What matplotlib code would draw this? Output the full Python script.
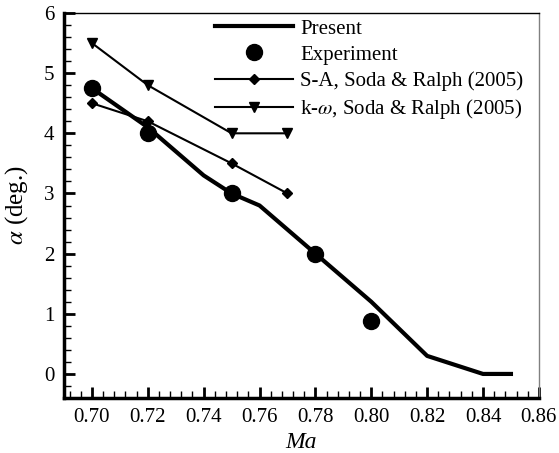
import matplotlib
matplotlib.use('Agg')
import matplotlib.pyplot as plt
from matplotlib.ticker import MultipleLocator

plt.rcParams['font.family'] = 'Liberation Serif'
plt.rcParams['mathtext.fontset'] = 'stix'

# present computation
ma_present = [0.70, 0.72, 0.74, 0.75, 0.76, 0.78, 0.80, 0.82, 0.84, 0.85]
alpha_present = [4.75, 4.1, 3.3, 3.0, 2.8, 2.0, 1.2, 0.3, 0.0, 0.0]

# experiment
ma_exp = [0.70, 0.72, 0.75, 0.78, 0.80]
alpha_exp = [4.75, 4.0, 3.0, 2.0, 0.88]

# Soda & Ralph (2005)
ma_sa = [0.70, 0.72, 0.75, 0.77]
alpha_sa = [4.5, 4.2, 3.5, 3.0]
ma_kw = [0.70, 0.72, 0.75, 0.77]
alpha_kw = [5.5, 4.8, 4.0, 4.0]

fig = plt.figure(figsize=(5.59, 4.53), dpi=100)
ax = fig.add_axes([0.1145, 0.1214, 0.8495, 0.8499])

ax.plot(ma_present, alpha_present, color='k', lw=3.0, label='Present', zorder=3)
ax.plot(ma_exp, alpha_exp, 'o', color='k', ms=11.5, label='Experiment', zorder=4)
ax.plot(ma_sa, alpha_sa, '-D', color='k', lw=1.5, ms=5, label='S-A, Soda & Ralph (2005)')
ax.plot(ma_kw, alpha_kw, '-v', color='k', lw=1.5, ms=7.5,
        label=r'k-$\omega$, Soda & Ralph (2005)')

ax.set_xlim(0.69, 0.86)
ax.set_ylim(-0.4, 6)
ax.xaxis.set_major_locator(MultipleLocator(0.02))
ax.xaxis.set_minor_locator(MultipleLocator(0.004))
ax.yaxis.set_major_locator(MultipleLocator(1))
ax.yaxis.set_minor_locator(MultipleLocator(0.2))
ax.set_xticklabels([f"{v:.2f}" for v in ax.get_xticks()])

ax.tick_params(which='both', direction='in', top=False, right=False, labelsize=15)
ax.tick_params(which='major', length=8, width=2, pad=7)
ax.tick_params(which='minor', length=5, width=1)

ax.spines['left'].set_linewidth(2.5)
ax.spines['bottom'].set_linewidth(2.5)
ax.spines['top'].set_linewidth(1.0)
ax.spines['right'].set_linewidth(1.0)
ax.spines['right'].set_color('#808080')

ax.set_xlabel('Ma', fontsize=17, style='italic', labelpad=4)
ax.set_ylabel(r'$\alpha$ (deg.)', fontsize=18)
ax.yaxis.set_label_coords(-0.072, 0.5)

ax.legend(loc='upper left', bbox_to_anchor=(215 / 559, 1 - 19 / 453),
          bbox_transform=fig.transFigure, frameon=False, fontsize=15,
          numpoints=1, handlelength=3.75, handletextpad=0.35,
          labelspacing=0.31, borderpad=0, borderaxespad=0)

fig.savefig('out.png', dpi=100)
